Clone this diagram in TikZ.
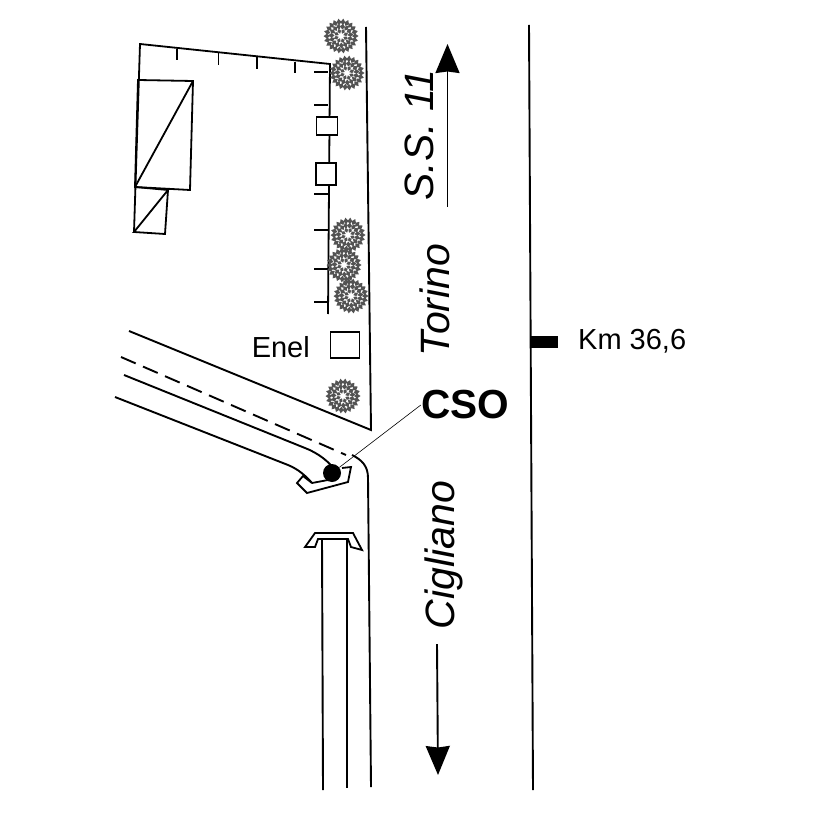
\documentclass[tikz,border=0pt]{standalone}
\usepackage{fontspec}
\setmainfont{Liberation Sans}
\usetikzlibrary{arrows.meta}

\tikzset{
  shrub/.pic={
    \foreach \a in {0,16.4,...,350}
      \fill[gray!65!black,rotate=\a] (17.5,0) -- (14,2.4) -- (11,0) -- (14,-2.4) -- cycle;
    \foreach \a in {8,32,...,350}
      \fill[gray!65!black,rotate=\a] (12.5,0) -- (9.5,2.3) -- (6.5,0) -- (9.5,-2.3) -- cycle;
    \foreach \a in {20,65,...,350}
      \fill[gray!65!black,rotate=\a] (7.5,0) -- (5,1.9) -- (2.5,0) -- (5,-1.9) -- cycle;
  }
}

\begin{document}
\begin{tikzpicture}[x=1pt,y=-1pt,line join=miter,
  thin line/.style={line width=0.6pt},
  road/.style={line width=1.9pt},
  wall/.style={line width=1.8pt},
  box node/.style={rectangle,draw,fill=white,line width=1.8pt,inner sep=0pt},
  label node/.style={inner sep=0pt,font=\fontsize{29}{29}\selectfont},
  road node/.style={inner sep=0pt,rotate=90,font=\fontsize{41}{41}\selectfont\itshape},
  big arrow/.style={road,-{Stealth[length=29pt,width=24pt,inset=1.5pt]}}]

  \useasboundingbox (0,0) rectangle (826,826);

  % building
  \draw[wall] (134,232) -- (140,44) -- (330,64) -- (328,314);
  \draw[wall] (135,187) -- (138,80) -- (193,81) -- (190,190) -- cycle;
  \draw[wall] (135,187) -- (193,81);
  \draw[wall] (135,187) -- (168,190) -- (165,234) -- (134,232) -- (168,190);

  % fence posts
  \foreach \x/\ya/\yb in {177/49/60,218.5/53/65,257/57/69,295/62/73}
    \draw[wall] (\x,\ya) -- (\x,\yb);
  \foreach \y in {72,105,194,230,269,302}
    \draw[wall] (314,\y) -- (328,\y);

  \node[box node,minimum width=21pt,minimum height=18pt] (box1) at (327,126) {};
  \node[box node,minimum width=20pt,minimum height=22pt] (box2) at (326,174) {};
  \node[box node,minimum width=29pt,minimum height=26pt] (enel) at (345,345) {};
  \node[label node,anchor=east] (enelText) at (310,347) {Enel};

  % trees
  \foreach \x/\y in {341/36,347/73,348/235,344/265,351/296,343/396}
    \pic at (\x,\y) {shrub};

  % main road
  \draw[road] (366,27) -- (371,430) -- (129,331);
  \draw[road] (529,25) -- (533,790);
  \draw[road] (352,455) .. controls (362,460) and (368,466) .. (368,478) -- (371,787);
  \draw[road,dash pattern=on 16pt off 8pt] (121,357) -- (346,455);

  % side road
  \draw[road] (124,375) -- (305,448) .. controls (318,453) and (330,462) .. (336,472);
  \draw[road] (115,397) -- (288,465) .. controls (298,469) and (306,476) .. (312,483);
  \draw[wall] (312,483) -- (303,476) -- (297,483) -- (307,493) -- (348,482) -- (351,467) -- (342,468);
  \draw[wall] (312,483) -- (328,480);

  % lower road
  \draw[road] (322,539) -- (323,790);
  \draw[road] (347,539) -- (347,788);
  \draw[wall,fill=white] (305,547) -- (315,533) -- (353,533) -- (362,550) -- (351,547) -- (348,539) -- (318,539) -- (315,547) -- cycle;

  % km mark
  \node[fill=black,minimum width=27pt,minimum height=12pt,inner sep=0pt] (km) at (544.5,342) {};
  \node[label node,anchor=west] (kmText) at (578,341) {Km 36,6};

  % CSO
  \node[circle,fill=black,minimum size=18pt,inner sep=0pt] (cso) at (332,473) {};
  \node[inner sep=0pt,font=\fontsize{40.6}{40.6}\selectfont\bfseries] (csoText) at (465,405) {CSO};
  \draw[thin line] (cso) -- (csoText.west);

  % directions
  \coordinate (upStart) at (447.5,207);
  \coordinate (upEnd) at (447.5,44);
  \coordinate (downStart) at (437,644);
  \coordinate (downEnd) at (438,775);
  \draw[big arrow] (upStart) -- (upEnd);
  \draw[big arrow] (downStart) -- (downEnd);

  \node[road node] (ss) at (419,135) {S.S. 11};
  \node[road node] (torino) at (435,300) {Torino};
  \node[road node] (cigliano) at (444,555) {Cigliano};

\end{tikzpicture}
\end{document}
